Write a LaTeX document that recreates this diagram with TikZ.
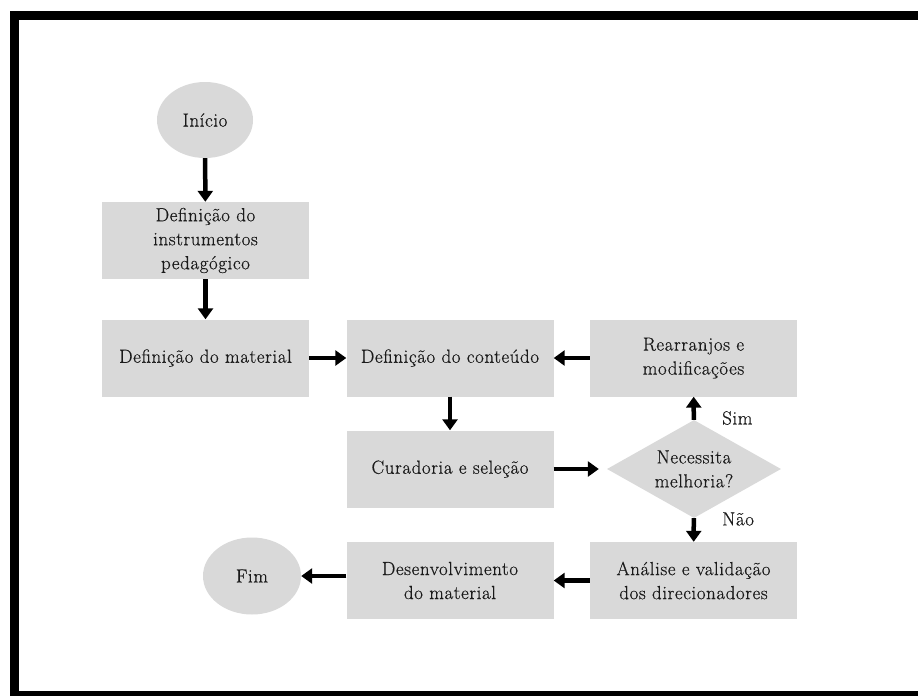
\documentclass[tikz,border=0pt]{standalone}
\usepackage{fontspec}
\usepackage{tikz}
\usetikzlibrary{shapes.geometric, arrows.meta}

\newfontfamily\boxfont{Latin Modern Roman}[FakeBold=0.45, LetterSpace=3]
\definecolor{boxgray}{HTML}{D9D9D9}
\definecolor{textdark}{HTML}{1A1A1A}

\begin{document}
\begin{tikzpicture}[x=1pt, y=1pt,
  every node/.style={font=\boxfont\fontsize{19}{24}\selectfont, text=textdark, align=center, inner sep=0pt},
  box/.style={rectangle, fill=boxgray, minimum width=207, minimum height=77},
  startend/.style={ellipse, fill=boxgray},
  decision/.style={diamond, fill=boxgray, shape aspect=1.8, minimum width=174, minimum height=98},
  flow/.style={line width=4.5pt, -{Triangle[width=15pt,length=11pt]}}]
\useasboundingbox (0,0) rectangle (918,-696);
\fill [white] (0,0) rectangle (918,-696);
\fill [black] (10,-11) rectangle (918,-20);
\fill [black] (10,-11) rectangle (19,-696);
\fill [black] (10,-691) rectangle (918,-696);
\node [startend, minimum width=96, minimum height=76] (inicio) at (205,-120) {Início};
\node [box] (instr) at (205.5,-240.5) {Definição do\\instrumentos\\pedagógico};
\node [box] (material) at (205.5,-358) {Definição do material};
\node [box] (conteudo) at (450,-358) {Definição do conteúdo};
\node [box] (rearranjo) at (693.5,-358) {Rearranjos e\\modificações};
\node [box] (curadoria) at (450,-469) {Curadoria e seleção};
\node [decision] (melhoria) at (694,-469) {Necessita\\melhoria?};
\node [box] (analise) at (693.5,-580.5) {Análise e validação\\dos direcionadores};
\node [box] (desenv) at (450,-580.5) {Desenvolvimento\\do material};
\node [startend, minimum width=98, minimum height=77] (fim) at (252,-576) {Fim};
\node [anchor=west] (sim) at (722,-418) {Sim};
\node [anchor=west] (nao) at (722,-519) {Não};
\draw [flow] (inicio) -- (instr);
\draw [flow] (instr) -- (material);
\draw [flow] (material) -- (conteudo);
\draw [flow] (rearranjo) -- (conteudo);
\draw [flow] (conteudo) -- (curadoria);
\draw [flow, shorten >=8pt] (curadoria) -- (melhoria);
\draw [flow] (melhoria) -- (rearranjo);
\draw [flow] (melhoria) -- (analise);
\draw [flow] (analise) -- (desenv);
\draw [flow] (desenv.west |- fim.east) -- (fim.east);
\end{tikzpicture}
\end{document}
